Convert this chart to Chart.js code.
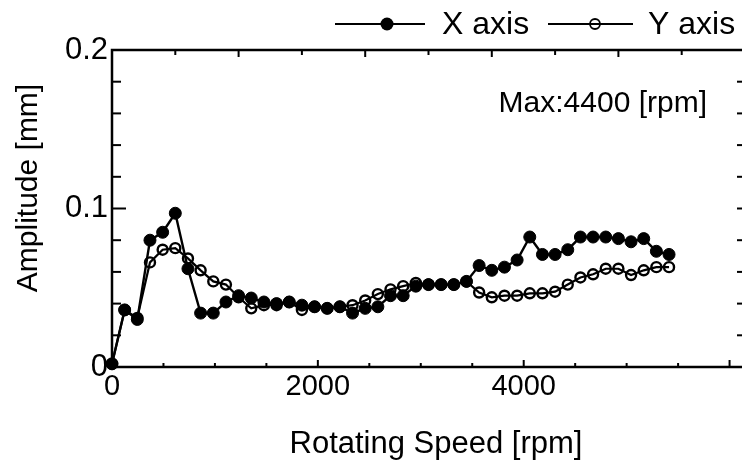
<!DOCTYPE html>
<html>
<head>
<meta charset="utf-8">
<script src="https://cdn.jsdelivr.net/npm/chart.js@4/dist/chart.umd.min.js"></script>
<style>
    html, body { margin: 0; padding: 0; background: #fff; overflow: hidden; }
    #wrap { position: relative; width: 760px; height: 472px; }
</style>
</head>
<body>
<div id="wrap"><canvas id="ampChart"></canvas></div>
<script>
    // rotating speed, in the units of the drawn x axis
    const rpm = [0, 123, 246, 369, 492, 615, 738, 861, 984, 1107, 1230, 1353, 1476, 1599, 1722,
        1845, 1968, 2091, 2214, 2337, 2460, 2583, 2706, 2829, 2952, 3075, 3198, 3321, 3444, 3567,
        3690, 3813, 3936, 4059, 4182, 4305, 4428, 4551, 4674, 4797, 4920, 5043, 5166, 5289, 5412];

    // amplitude [mm], X axis (filled markers)
    const xAxisAmp = [0.002, 0.036, 0.030, 0.080, 0.085, 0.097, 0.062, 0.034, 0.034, 0.041, 0.045,
        0.0435, 0.041, 0.040, 0.041, 0.039, 0.038, 0.037, 0.038, 0.034, 0.037, 0.038, 0.045, 0.045,
        0.051, 0.052, 0.052, 0.052, 0.054, 0.064, 0.061, 0.063, 0.0675, 0.082, 0.071, 0.071, 0.074,
        0.082, 0.082, 0.082, 0.081, 0.079, 0.081, 0.073, 0.071];

    // amplitude [mm], Y axis (open markers)
    const yAxisAmp = [0.002, 0.036, 0.031, 0.066, 0.074, 0.075, 0.0685, 0.061, 0.054, 0.052, 0.044,
        0.037, 0.039, 0.039, 0.041, 0.036, 0.038, 0.037, 0.038, 0.039, 0.042, 0.046, 0.049, 0.051,
        0.053, 0.052, 0.052, 0.052, 0.054, 0.047, 0.044, 0.045, 0.045, 0.0465, 0.0465, 0.0475, 0.052,
        0.0565, 0.0585, 0.062, 0.062, 0.058, 0.061, 0.063, 0.063];

    const xLabelTicks = [0, 2000, 4000];
    const yLabelTicks = [0, 0.1, 0.2];
    const xBottomTicks = [0, 500, 1000, 1500, 2000, 2500, 3000, 3500, 4000, 4500, 5000, 5500, 6000];
    const xTopTicks = [615, 1230, 1845, 2460, 3075, 3690, 4305, 4920, 5535];
    const yMinorTicks = [0.02, 0.04, 0.06, 0.08, 0.1, 0.12, 0.14, 0.16, 0.18];

    const FONT = '"Liberation Sans", Arial, Helvetica, sans-serif';

    function seg(ctx, x1, y1, x2, y2) {
        ctx.beginPath();
        ctx.moveTo(x1, y1);
        ctx.lineTo(x2, y2);
        ctx.stroke();
    }

    // box round the plot with inward ticks on all four sides
    const framePlugin = {
        id: 'frame',
        afterDatasetsDraw: function (chart) {
            const ctx = chart.ctx;
            const a = chart.chartArea;
            const xs = chart.scales.x;
            const ys = chart.scales.y;
            ctx.save();
            ctx.strokeStyle = '#000';
            ctx.lineWidth = 2.5;
            ctx.strokeRect(a.left, a.top, a.right - a.left, a.bottom - a.top);
            ctx.lineWidth = 2;
            xBottomTicks.forEach(function (v) {
                const px = xs.getPixelForValue(v);
                const len = v % 2000 === 0 ? 7 : 4;
                seg(ctx, px, a.bottom, px, a.bottom - len);
            });
            xTopTicks.forEach(function (v, i) {
                const px = xs.getPixelForValue(v);
                const len = i % 2 === 1 ? 7 : 5;
                seg(ctx, px, a.top, px, a.top + len);
            });
            yMinorTicks.forEach(function (v) {
                const py = ys.getPixelForValue(v);
                const len = Math.abs(v - 0.1) < 1e-9 ? 14 : 9;
                seg(ctx, a.left, py, a.left + len, py);
                seg(ctx, a.right, py, a.right - 8, py);
            });
            ctx.restore();
        },
        afterDraw: function (chart) {
            const ctx = chart.ctx;
            ctx.save();
            ctx.fillStyle = '#000';
            ctx.strokeStyle = '#000';

            // legend
            ctx.lineWidth = 2.2;
            seg(ctx, 335, 24, 425, 24);
            ctx.beginPath();
            ctx.arc(387, 24, 6.5, 0, Math.PI * 2);
            ctx.fill();
            ctx.lineWidth = 1.8;
            seg(ctx, 548, 24, 633, 24);
            ctx.beginPath();
            ctx.arc(595, 24, 5, 0, Math.PI * 2);
            ctx.stroke();
            ctx.font = '32px ' + FONT;
            ctx.textAlign = 'left';
            ctx.textBaseline = 'alphabetic';
            ctx.fillText('X axis', 442, 34);
            ctx.fillText('Y axis', 648, 34);

            // note in the plot
            ctx.font = '30px ' + FONT;
            ctx.textAlign = 'right';
            ctx.fillText('Max:4400 [rpm]', 707, 112);

            // axis titles
            ctx.font = '31px ' + FONT;
            ctx.textAlign = 'center';
            ctx.fillText('Rotating Speed [rpm]', 436, 453);
            ctx.translate(37, 188);
            ctx.rotate(-Math.PI / 2);
            ctx.font = '30px ' + FONT;
            ctx.fillText('Amplitude [mm]', 0, 0);
            ctx.restore();
        }
    };

    const ctx = document.getElementById('ampChart').getContext('2d');
    new Chart(ctx, {
        type: 'line',
        data: {
            datasets: [{
                label: 'X axis',
                data: rpm.map(function (v, i) { return { x: v, y: xAxisAmp[i] }; }),
                borderColor: '#000',
                borderWidth: 2.4,
                pointRadius: 6,
                pointBackgroundColor: '#000',
                pointBorderColor: '#000',
                pointBorderWidth: 1,
                tension: 0,
                clip: false
            }, {
                label: 'Y axis',
                data: rpm.map(function (v, i) { return { x: v, y: yAxisAmp[i] }; }),
                borderColor: '#000',
                borderWidth: 2.2,
                pointRadius: 5,
                pointBackgroundColor: 'rgba(0,0,0,0)',
                pointBorderColor: '#000',
                pointBorderWidth: 2.4,
                tension: 0,
                clip: false
            }]
        },
        options: {
            responsive: true,
            maintainAspectRatio: false,
            animation: false,
            layout: { padding: { top: 50, right: 15, left: 0, bottom: 0 } },
            plugins: {
                legend: { display: false },
                tooltip: { enabled: false }
            },
            scales: {
                x: {
                    type: 'linear',
                    min: 0,
                    max: 6150,
                    afterBuildTicks: function (scale) {
                        scale.ticks = xLabelTicks.map(function (v) { return { value: v }; });
                    },
                    afterFit: function (scale) { scale.height = 105; },
                    grid: { display: false, drawTicks: false },
                    border: { display: false },
                    ticks: {
                        color: '#000',
                        padding: 3,
                        maxRotation: 0,
                        font: { family: FONT, size: 29 },
                        callback: function (v) { return String(v); }
                    }
                },
                y: {
                    min: 0,
                    max: 0.2,
                    afterBuildTicks: function (scale) {
                        scale.ticks = yLabelTicks.map(function (v) { return { value: v }; });
                    },
                    afterFit: function (scale) { scale.width = 112; },
                    grid: { display: false, drawTicks: false },
                    border: { display: false },
                    ticks: {
                        color: '#000',
                        padding: 4,
                        font: { family: FONT, size: 31 },
                        callback: function (v) { return v === 0 ? '0' : v.toFixed(1); }
                    }
                }
            }
        },
        plugins: [framePlugin]
    });
</script>
</body>
</html>
